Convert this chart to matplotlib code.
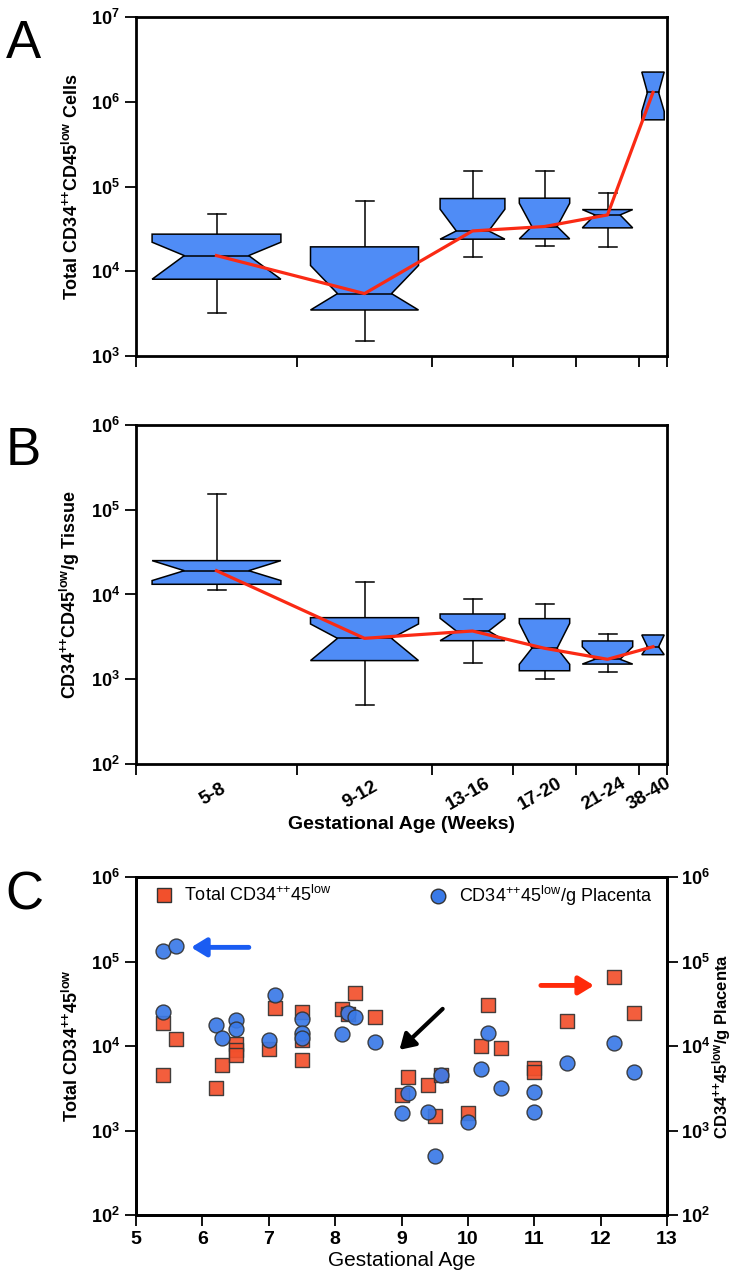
import matplotlib
matplotlib.use('Agg')
import matplotlib.pyplot as plt
import numpy as np
from matplotlib.patches import Polygon
from matplotlib.ticker import NullLocator

plt.rcParams['font.family'] = ['Liberation Sans Narrow', 'Liberation Sans', 'DejaVu Sans']
plt.rcParams['mathtext.default'] = 'regular'

# ---- data: panels A and B (box summaries per gestational-age group) ----
groups = ['5-8', '9-12', '13-16', '17-20', '21-24', '38-40']

# panel A: total CD34++CD45low cells
a_whislo = [3220, 1490, 14800, 19900, 19200, None]
a_q1 = [8050, 3490, 23900, 24100, 32500, 612000]
a_notchlo = [8050, 3490, 23900, 24100, 32500, 770000]
a_med = [15300, 5450, 29900, 33700, 46200, 1290000]
a_notchhi = [22000, 11700, 54000, 63500, 53400, 2240000]
a_q3 = [27400, 19400, 72100, 72800, 53400, 2240000]
a_whishi = [48000, 67100, 151800, 154400, 84900, None]

# panel B: CD34++CD45low per g tissue
b_whislo = [11300, 497, 1570, 1010, 1210, None]
b_q1 = [13200, 1660, 2850, 1260, 1510, 1950]
b_notchlo = [14600, 1660, 2850, 1500, 1510, 1950]
b_med = [19100, 3040, 3710, 2320, 1720, 2420]
b_notchhi = [25100, 4490, 5240, 4570, 2420, 3330]
b_q3 = [25100, 5330, 5890, 5190, 2830, 3330]
b_whishi = [153000, 14000, 8930, 7730, 3420, None]

# ---- data: panel C scatter ----
sq_age = [5.4, 5.4, 5.6, 6.2, 6.3, 6.5, 6.5, 6.5, 7.0, 7.1, 7.5, 7.5, 7.5, 8.1, 8.2, 8.3,
          8.6, 9.0, 9.1, 9.4, 9.5, 9.6, 10.0, 10.2, 10.3, 10.5, 11.0, 11.0, 11.5, 12.2, 12.5]
sq_total = [18600, 4550, 12000, 3220, 5880, 10500, 9020, 7790, 9170, 28000, 25600, 11800, 6860,
            27300, 24000, 41900, 22300, 2620, 4240, 3470, 1490, 4480, 1630, 10100, 30500, 9420,
            5510, 4900, 19500, 65900, 24700]
ci_age = [5.4, 5.6, 5.4, 6.2, 6.3, 6.5, 6.5, 7.0, 7.1, 7.5, 7.5, 7.5, 8.1, 8.2, 8.3, 8.6,
          9.0, 9.1, 9.4, 9.5, 9.6, 10.0, 10.2, 10.3, 10.5, 11.0, 11.0, 11.5, 12.2, 12.5]
ci_per_g = [133000, 151000, 25400, 17700, 12300, 20400, 15800, 11800, 40400, 21000, 14200, 12400,
            13800, 24500, 22000, 11100, 1630, 2810, 1660, 495, 4480, 1265, 5360, 14100, 3160,
            2860, 1640, 6210, 10800, 4990]

# layout of the grouped x axis (group boundaries, arbitrary units)
edges = np.array([0, 161, 296, 377, 440, 503, 531])
centers = (edges[:-1] + edges[1:]) / 2
widths = (edges[1:] - edges[:-1]) * 0.8

BOX = '#4f8cf6'
RED = '#fa2a14'
SQ = '#f2502c'
CI = '#3a7ae8'
PP = '$^{{+}{+}}$'

fig = plt.figure(figsize=(7.33, 12.76), dpi=100)


def style_axes(ax, ylo, yhi):
    ax.set_yscale('log')
    ax.set_ylim(ylo, yhi)
    for s in ax.spines.values():
        s.set_linewidth(2.0)
    ax.tick_params(direction='out', length=8, width=1.3)
    exps = range(int(np.log10(ylo)), int(np.log10(yhi)) + 1)
    ax.set_yticks([10.0 ** e for e in exps])
    ax.set_yticklabels(['10$^{%d}$' % e for e in exps], fontsize=13, fontweight='bold')
    ax.yaxis.set_minor_locator(NullLocator())


def boxes(ax, wlo, q1, nlo, med, nhi, q3, whi):
    for i in range(len(groups)):
        c = centers[i]
        w = widths[i]
        l, r = c - w / 2, c + w / 2
        il, ir = c - w / 4, c + w / 4
        verts = [(l, q1[i]), (l, nlo[i]), (il, med[i]), (l, nhi[i]), (l, q3[i]),
                 (r, q3[i]), (r, nhi[i]), (ir, med[i]), (r, nlo[i]), (r, q1[i])]
        ax.add_patch(Polygon(verts, closed=True, facecolor=BOX, edgecolor='black', lw=1.1, zorder=3))
        ax.plot([il, ir], [med[i], med[i]], color='black', lw=1.1, zorder=3)
        if whi[i] is not None:
            ax.plot([c, c], [q3[i], whi[i]], color='black', lw=1.1, zorder=2)
            ax.plot([c - 9, c + 9], [whi[i], whi[i]], color='black', lw=1.1, zorder=2)
        if wlo[i] is not None:
            ax.plot([c, c], [q1[i], wlo[i]], color='black', lw=1.1, zorder=2)
            ax.plot([c - 9, c + 9], [wlo[i], wlo[i]], color='black', lw=1.1, zorder=2)
    ax.plot(centers, med, color=RED, lw=2.3, zorder=4)
    ax.set_xlim(edges[0], edges[-1])
    ax.set_xticks(edges)
    ax.set_xticklabels([])


# ---- A ----
axA = fig.add_axes([136 / 733, 1 - 356 / 1276, 531 / 733, 339 / 1276])
style_axes(axA, 1e3, 1e7)
boxes(axA, a_whislo, a_q1, a_notchlo, a_med, a_notchhi, a_q3, a_whishi)
axA.set_ylabel('Total CD34' + PP + 'CD45$^{low}$ Cells', family='Liberation Sans',
               fontweight='bold', fontsize=13, labelpad=6)
fig.text(0.008, 1 - 58 / 1276, 'A', fontsize=38, family='Liberation Sans')

# ---- B ----
axB = fig.add_axes([136 / 733, 1 - 764 / 1276, 531 / 733, 339 / 1276])
style_axes(axB, 1e2, 1e6)
boxes(axB, b_whislo, b_q1, b_notchlo, b_med, b_notchhi, b_q3, b_whishi)
axB.set_ylabel('CD34' + PP + 'CD45$^{low}$/g Tissue', family='Liberation Sans',
               fontweight='bold', fontsize=13, labelpad=6)
for c, g in zip(centers, groups):
    axB.text(c - 4, -0.09, g, transform=axB.get_xaxis_transform(), rotation=30,
             ha='center', va='center', fontsize=13.5, fontweight='bold')
axB.text(0.5, -0.178, 'Gestational Age (Weeks)', transform=axB.transAxes, ha='center',
         va='center', fontsize=14, fontweight='bold')
fig.text(0.008, 1 - 465 / 1276, 'B', fontsize=38, family='Liberation Sans')

# ---- C ----
axC = fig.add_axes([136 / 733, 1 - 1215 / 1276, 531 / 733, 338 / 1276])
style_axes(axC, 1e2, 1e6)
axC.set_xlim(5, 13)
axC.set_xticks(range(5, 14))
axC.set_xticklabels([str(v) for v in range(5, 14)], fontsize=14, fontweight='bold')
axC.xaxis.set_minor_locator(NullLocator())
axC2 = axC.twinx()
style_axes(axC2, 1e2, 1e6)
axC2.tick_params(axis='y', pad=2)
axC.scatter(sq_age, sq_total, marker='s', s=100, c=SQ, edgecolors='#333333', linewidths=1.0,
            alpha=0.92, zorder=3)
axC2.scatter(ci_age, ci_per_g, marker='o', s=115, c=CI, edgecolors='#333333', linewidths=1.0,
             alpha=0.92, zorder=3)
axC.set_ylabel('Total CD34' + PP + '45$^{low}$', family='Liberation Sans', fontweight='bold',
               fontsize=13, labelpad=6)
axC2.set_ylabel('CD34' + PP + '45$^{low}$/g Placenta', family='Liberation Sans',
                fontweight='bold', fontsize=12, labelpad=0)
axC.set_xlabel('Gestational Age', fontsize=15, labelpad=2)

# legend
axC.plot([0.052], [0.947], 's', ms=10, color=SQ, mec='#333333', mew=1.0, transform=axC.transAxes,
         clip_on=False)
axC.text(0.091, 0.947, 'Total CD34' + PP + '45$^{low}$', transform=axC.transAxes, va='center',
         fontsize=13)
axC.plot([0.569], [0.944], 'o', ms=10.5, color=CI, mec='#333333', mew=1.0, transform=axC.transAxes,
         clip_on=False)
axC.text(0.608, 0.944, 'CD34' + PP + '45$^{low}$/g Placenta', transform=axC.transAxes,
         va='center', fontsize=13)

# arrows
axC2.annotate('', xy=(5.83, 147000), xytext=(6.70, 147000),
              arrowprops=dict(arrowstyle='-|>,head_length=0.9,head_width=0.55', lw=3.5,
                              color='#1a5cf2', shrinkA=0, shrinkB=0))
axC2.annotate('', xy=(11.90, 52100), xytext=(11.10, 52100),
              arrowprops=dict(arrowstyle='-|>,head_length=0.9,head_width=0.55', lw=3.5,
                              color='#ff2a0a', shrinkA=0, shrinkB=0))
axC2.annotate('', xy=(8.97, 9010), xytext=(9.62, 27500),
              arrowprops=dict(arrowstyle='-|>,head_length=0.9,head_width=0.55', lw=3.0,
                              color='black', shrinkA=0, shrinkB=0))
fig.text(0.008, 1 - 910 / 1276, 'C', fontsize=38, family='Liberation Sans')

fig.savefig('out.png', dpi=100)
